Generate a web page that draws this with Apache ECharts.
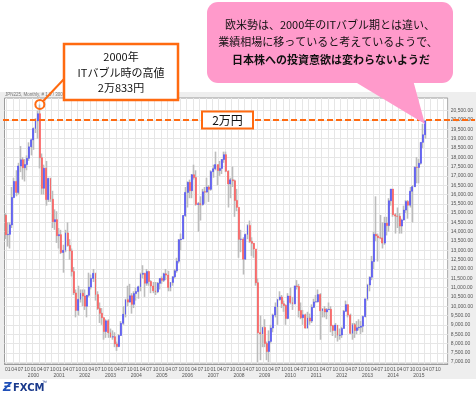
<!DOCTYPE html>
<html>
<head>
<meta charset="utf-8">
<script src="https://cdn.jsdelivr.net/npm/echarts@6/dist/echarts.min.js"></script>
<style>
  html, body { margin: 0; padding: 0; background: #fff; }
  #chart { width: 476px; height: 398px; }
</style>
</head>
<body>
<div id="chart"></div>
<script>
// monthly candles, Dec 1998 .. Apr 2015; axis runs on to Feb 2016
const startYear = 1998
const startMonth = 12
const categoryCount = 207
const categories = []
for (let i = 0; i < categoryCount; i++) {
  const k = startMonth - 1 + i
  categories.push((startYear + Math.floor(k / 12)) + '-' + String(k % 12 + 1).padStart(2, '0'))
}

const opens = [
  14883,
  13842, 13859, 14367, 15837, 16701, 16112, 17530, 17862, 17437, 17605, 17942, 18558,
  18934, 19540, 19960, 20337, 17974, 16332, 17411, 15727, 16861, 15747, 14539, 14649,
  13786, 13843, 12883, 12999, 13934, 13262, 12969, 11860, 10713, 9775, 10366, 10697,
  10543, 9998, 10587, 11025, 11493, 11764, 10622, 9878, 9619, 9383, 8640, 9216,
  8579, 8340, 8363, 7973, 7831, 8425, 9083, 9563, 10344, 10219, 10560, 10101,
  10677, 10784, 11042, 11715, 11762, 11236, 11858, 11326, 11082, 10824, 10771, 11231,
  11489, 11388, 11741, 11669, 11009, 11277, 11584, 11900, 12414, 13574, 13607, 14872,
  16111, 16650, 16205, 17060, 16907, 15467, 15505, 15457, 16141, 16128, 16399, 16274,
  17226, 17383, 17604, 17288, 17400, 17876, 18138, 17249, 16569, 16786, 16737, 15681,
  15308, 13592, 13603, 12526, 13850, 14339, 13481, 13377, 13073, 11260, 8577, 8512,
  8860, 7994, 7568, 8110, 8828, 9523, 9958, 10357, 10493, 10133, 10035, 9346,
  10546, 10198, 10126, 11090, 11057, 9769, 9383, 9537, 8824, 9369, 9202, 9937,
  10229, 10238, 10624, 9755, 9850, 9694, 9816, 9833, 8955, 8700, 8988, 8435,
  8455, 8803, 9723, 10084, 9521, 8543, 9007, 8695, 8840, 8870, 8928, 9446,
  10395, 11139, 11559, 12398, 13861, 13775, 13677, 13668, 13389, 14456, 14328, 15662,
  16291, 14915, 14841, 14828, 14304, 14632, 15162, 15621, 15425, 16174, 16414, 17460,
  17451, 17674, 18798, 19207
]
const closes = [
  13842,
  13859, 14367, 15837, 16701, 16112, 17530, 17862, 17437, 17605, 17942, 18558, 18934,
  19540, 19960, 20337, 17974, 16332, 17411, 15727, 16861, 15747, 14539, 14649, 13786,
  13843, 12883, 12999, 13934, 13262, 12969, 11860, 10713, 9775, 10366, 10697, 10543,
  9998, 10587, 11025, 11493, 11764, 10622, 9878, 9619, 9383, 8640, 9216, 8579,
  8340, 8363, 7973, 7831, 8425, 9083, 9563, 10344, 10219, 10560, 10101, 10677,
  10784, 11042, 11715, 11762, 11236, 11858, 11326, 11082, 10824, 10771, 11231, 11489,
  11388, 11741, 11669, 11009, 11277, 11584, 11900, 12414, 13574, 13607, 14872, 16111,
  16650, 16205, 17060, 16907, 15467, 15505, 15457, 16141, 16128, 16399, 16274, 17226,
  17383, 17604, 17288, 17400, 17876, 18138, 17249, 16569, 16786, 16737, 15681, 15308,
  13592, 13603, 12526, 13850, 14339, 13481, 13377, 13073, 11260, 8577, 8512, 8860,
  7994, 7568, 8110, 8828, 9523, 9958, 10357, 10493, 10133, 10035, 9346, 10546,
  10198, 10126, 11090, 11057, 9769, 9383, 9537, 8824, 9369, 9202, 9937, 10229,
  10238, 10624, 9755, 9850, 9694, 9816, 9833, 8955, 8700, 8988, 8435, 8455,
  8803, 9723, 10084, 9521, 8543, 9007, 8695, 8840, 8870, 8928, 9446, 10395,
  11139, 11559, 12398, 13861, 13775, 13677, 13668, 13389, 14456, 14328, 15662, 16291,
  14915, 14841, 14828, 14304, 14632, 15162, 15621, 15425, 16174, 16414, 17460, 17451,
  17674, 18798, 19207, 19950
]
const lows = [
  13600,
  13200, 13100, 14200, 15800, 15900, 16000, 17200, 16800, 16700, 17300, 17800, 18100,
  18400, 19300, 19000, 17400, 16000, 16000, 15400, 15600, 15600, 14200, 14100, 13400,
  13100, 12800, 11800, 12900, 13200, 12500, 11600, 10600, 9400, 9500, 10200, 10000,
  9800, 9400, 10500, 10900, 11300, 10300, 9800, 9100, 9000, 8200, 8300, 8300,
  8300, 8200, 7800, 7600, 7800, 8400, 9000, 9400, 10000, 10200, 9600, 9900,
  10300, 10400, 10800, 11500, 10500, 11100, 11100, 10700, 10700, 10600, 10700, 10900,
  11200, 11300, 11400, 10800, 10800, 11100, 11500, 11800, 12300, 13000, 13600, 14800,
  15300, 15800, 15800, 16800, 15400, 14000, 14600, 15400, 15500, 16100, 15600, 16200,
  16900, 17300, 16500, 17000, 17100, 17700, 17200, 15300, 15800, 16400, 14800, 15100,
  12600, 12900, 11700, 12500, 13600, 13400, 12700, 12600, 11100, 6994, 7100, 7800,
  7800, 7100, 7000, 8000, 8600, 9400, 9000, 10300, 9900, 9700, 9000, 9300,
  10100, 9800, 10100, 10900, 9400, 9300, 9000, 8800, 8800, 9000, 9100, 9900,
  10200, 10200, 8200, 9400, 9400, 9300, 9800, 8600, 8400, 8300, 8100, 8200,
  8300, 8800, 9700, 9400, 8500, 8200, 8300, 8500, 8700, 8500, 8600, 9400,
  10300, 10800, 11400, 12000, 13500, 12400, 13600, 13100, 13300, 13800, 14000, 15400,
  14800, 13900, 14200, 13900, 13900, 14600, 15000, 14700, 15300, 14500, 16400, 16600,
  16600, 17600, 18500, 19000
]
const highs = [
  15000,
  14500, 14500, 16400, 16900, 17300, 17700, 18600, 18000, 17900, 18100, 18800, 19000,
  19600, 20100, 20500, 20833, 18200, 17600, 17800, 16900, 16900, 16200, 15200, 15100,
  14200, 14100, 13300, 14100, 14500, 13600, 13100, 12100, 10900, 11100, 10900, 10900,
  10900, 10600, 11800, 11700, 12000, 11800, 10800, 10200, 9900, 9400, 9300, 9300,
  8800, 8700, 8600, 8100, 8500, 9200, 10000, 10400, 11100, 11200, 10700, 10800,
  11000, 11100, 11800, 12200, 11800, 12000, 11900, 11400, 11300, 11300, 11300, 11500,
  11600, 11800, 12000, 11900, 11300, 11600, 12000, 12600, 13600, 13900, 14900, 16400,
  16700, 16800, 17100, 17600, 17300, 15600, 15900, 16300, 16400, 16900, 16500, 17300,
  17600, 18300, 17600, 17800, 17900, 18300, 18300, 17300, 16900, 17500, 16800, 16300,
  15200, 14100, 13700, 13900, 14400, 14600, 13700, 13400, 13000, 11500, 9500, 8900,
  9300, 8100, 8700, 9000, 9600, 10200, 10400, 10800, 10600, 10300, 10100, 10700,
  11000, 10500, 11100, 11400, 11200, 10200, 9800, 9600, 9700, 9600, 10100, 10400,
  10600, 10900, 10700, 9900, 10000, 9900, 10200, 10000, 9000, 9100, 9000, 8800,
  8900, 9800, 10300, 10100, 9600, 9100, 9100, 9200, 9300, 9200, 9500, 10400,
  11200, 11600, 12700, 14000, 15900, 13900, 14900, 14500, 14800, 14800, 15800, 16300,
  16300, 15000, 15300, 15000, 14700, 15400, 15700, 15700, 16400, 16500, 17500, 18000,
  17900, 18800, 19800, 20000
]

const priceTicks = [
  7000, 7500, 8000, 8500, 9000, 9500, 10000, 10500, 11000, 11500, 12000, 12500, 13000, 13500,
  14000, 14500, 15000, 15500, 16000, 16500, 17000, 17500, 18000, 18500, 19000, 19500, 20000, 20500
]
const refLevel = 20000

const UP = '#4f4ff7'
const DOWN = '#ff5b5b'
const WICK = '#bcbcbc'
const ORANGE = '#ff6a10'
const PINK = '#ff9acb'
const JP = '"Noto Sans CJK JP", sans-serif'
const SMALL = '"Liberation Sans", Arial, sans-serif'

const wickData = opens.map((o, i) => [o, closes[i], lows[i], highs[i]])
const bodyData = opens.map((o, i) => [o, closes[i], Math.min(o, closes[i]), Math.max(o, closes[i])])

const quarterly = (idx) => ['01', '04', '07', '10'].includes(categories[idx].slice(5))

const chart = echarts.init(document.getElementById('chart'))

chart.setOption({
  animation: false,
  grid: {
    left: 4.5, top: 98, width: 448.5, height: 266,
    show: true, backgroundColor: '#fff', borderColor: '#9c9c9c', borderWidth: 1,
  },
  xAxis: {
    type: 'category',
    data: categories,
    boundaryGap: true,
    axisLine: { lineStyle: { color: '#9c9c9c' } },
    axisTick: { interval: (i) => quarterly(i), length: 2, lineStyle: { color: '#9c9c9c' } },
    axisLabel: {
      interval: (i) => quarterly(i),
      fontSize: 5, lineHeight: 6, color: '#555', margin: 3, fontFamily: SMALL,
      formatter: (v) => {
        const y = v.slice(0, 4), m = v.slice(5)
        return m === '01' && y !== '1999' ? m + '\n' + y : m
      },
    },
    splitLine: { show: true, interval: (i) => quarterly(i), lineStyle: { color: '#e6e6e6' } },
  },
  yAxis: {
    type: 'value',
    position: 'right',
    min: 6896,
    max: 21181,
    axisLine: { show: false },
    axisTick: { show: false, customValues: priceTicks },
    axisLabel: {
      customValues: priceTicks,
      fontSize: 5, color: '#555', margin: 3, fontFamily: SMALL,
      formatter: (v) => v.toLocaleString('en-US', { minimumFractionDigits: 2, maximumFractionDigits: 2 }),
    },
    splitLine: { show: true, lineStyle: { color: '#e6e6e6' } },
  },
  series: [
    {
      name: 'wick',
      type: 'candlestick',
      data: wickData,
      barWidth: 0.6,
      silent: true,
      itemStyle: { color: WICK, color0: WICK, borderColor: WICK, borderColor0: WICK, borderWidth: 1.6 },
      z: 2,
    },
    {
      name: 'body',
      type: 'candlestick',
      data: bodyData,
      barWidth: 1.4,
      silent: true,
      itemStyle: { color: UP, color0: DOWN, borderColor: UP, borderColor0: DOWN, borderWidth: 0.6 },
      z: 3,
    },
  ],
})

// annotations placed from the axes
const lineY = chart.convertToPixel({ yAxisIndex: 0 }, refLevel)
const peakIdx = highs.indexOf(Math.max(...highs))
const peak = chart.convertToPixel({ xAxisIndex: 0, yAxisIndex: 0 }, [categories[peakIdx], highs[peakIdx]])

chart.setOption({
  graphic: [
    { type: 'rect', z: -20, silent: true, shape: { x: 0, y: 92, width: 476, height: 287 }, style: { fill: '#eeeeee' } },
    { type: 'text', z: 5, left: 5, top: 92.5, style: { text: 'JPN225, Monthly, # 1.0 / 300', fontSize: 4.5, fill: '#777', font: '4.5px ' + SMALL } },

    // 2万円 level
    { type: 'line', z: 50, shape: { x1: 3, y1: lineY, x2: 475, y2: lineY }, style: { stroke: ORANGE, lineWidth: 2, lineDash: [6, 3] } },
    { type: 'rect', z: 51, shape: { x: 202, y: lineY - 8.5, width: 51, height: 17 }, style: { fill: '#fff', stroke: ORANGE, lineWidth: 2 } },
    { type: 'text', z: 52, style: { x: 227.5, y: lineY, text: '2万円', font: '12px ' + JP, fill: '#111', align: 'center', verticalAlign: 'middle' } },

    // peak callout
    { type: 'circle', z: 50, shape: { cx: peak[0], cy: peak[1], r: 4.5 }, style: { fill: 'none', stroke: ORANGE, lineWidth: 2 } },
    { type: 'line', z: 50, shape: { x1: peak[0] + 3.2, y1: peak[1] - 3.2, x2: 64, y2: 79 }, style: { stroke: ORANGE, lineWidth: 2 } },
    { type: 'rect', z: 51, shape: { x: 64, y: 44, width: 114, height: 56 }, style: { fill: '#fff', stroke: ORANGE, lineWidth: 2.5 } },
    { type: 'text', z: 52, style: { x: 121, y: 57, text: '2000年', font: '11px ' + JP, fill: '#111', align: 'center', verticalAlign: 'middle' } },
    { type: 'text', z: 52, style: { x: 121, y: 72.5, text: 'ITバブル時の高値', font: '11px ' + JP, fill: '#111', align: 'center', verticalAlign: 'middle' } },
    { type: 'text', z: 52, style: { x: 121, y: 88, text: '2万833円', font: '11px ' + JP, fill: '#111', align: 'center', verticalAlign: 'middle' } },

    // speech bubble
    { type: 'polygon', z: 60, shape: { points: [[352, 80], [413, 80], [425, 124]] }, style: { fill: PINK } },
    { type: 'rect', z: 60, shape: { x: 207, y: 2, width: 246, height: 81, r: 11 }, style: { fill: PINK } },
    { type: 'text', z: 61, style: { x: 330, y: 25, text: '欧米勢は、2000年のITバブル期とは違い、', font: '11px ' + JP, fill: '#111', align: 'center', verticalAlign: 'middle' } },
    { type: 'text', z: 61, style: { x: 328, y: 42, text: '業績相場に移っていると考えているようで、', font: '11px ' + JP, fill: '#111', align: 'center', verticalAlign: 'middle' } },
    { type: 'text', z: 61, style: { x: 331, y: 60, text: '日本株への投資意欲は変わらないようだ', font: 'bold 11px ' + JP, fill: '#111', align: 'center', verticalAlign: 'middle' } },

    // FXCM logo
    { type: 'text', z: 5, style: { x: 3, y: 388, text: 'Ƶ', font: 'bold italic 12px "DejaVu Sans", sans-serif', fill: '#2050b8', verticalAlign: 'middle' } },
    { type: 'text', z: 5, style: { x: 13, y: 388, text: 'FXCM', font: 'bold 10px "DejaVu Sans", sans-serif', fill: '#1b3a8c', verticalAlign: 'middle' } },
    { type: 'text', z: 5, style: { x: 42, y: 383, text: '™', font: '5px ' + SMALL, fill: '#1b3a8c', verticalAlign: 'middle' } },
  ],
})
</script>
</body>
</html>
